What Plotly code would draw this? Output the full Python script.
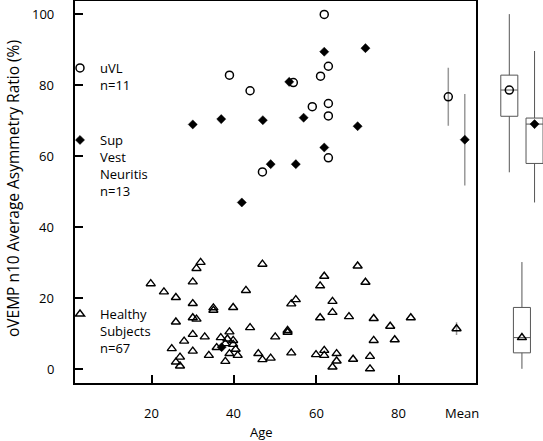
import plotly.graph_objects as go

W, H = 543, 441

# ---------------- data ----------------
uvl_age = [38.9, 43.9, 46.9, 54.4, 59.0, 61.0, 61.9, 62.9, 62.9, 62.9, 62.9]
uvl_ratio = [82.8, 78.4, 55.5, 80.7, 73.9, 82.5, 99.9, 85.3, 74.8, 71.3, 59.5]

svn_age = [30.0, 36.9, 37.0, 41.9, 47.0, 48.9, 53.4, 55.0, 56.9, 61.9, 61.9, 70.0, 71.9]
svn_ratio = [68.9, 70.4, 6.1, 46.9, 70.1, 57.7, 80.9, 57.7, 70.8, 89.4, 62.4, 68.4, 90.4]

healthy_age = [19.8, 23.0, 25.9, 31.9, 30.9, 30.0, 30.0, 25.9, 30.0, 30.9,
               35.0, 35.0, 39.8, 42.9, 46.9, 43.9, 50.0, 30.0, 27.9, 24.9,
               26.9, 25.9, 26.9, 30.0, 32.9, 33.9, 36.8, 38.9, 35.8, 37.9,
               39.8, 39.8, 38.9, 40.9, 37.9, 45.9, 46.9, 48.9, 61.9, 60.9,
               70.0, 71.9, 55.0, 53.9, 63.9, 63.9, 60.9, 67.9, 73.9, 82.9,
               77.9, 73.9, 79.0, 53.0, 53.0, 53.9, 59.9, 61.9, 61.9, 64.9,
               64.9, 63.9, 68.9, 73.0, 73.0, 38.4, 40.4]
healthy_ratio = [24.0, 21.7, 20.1, 30.0, 28.3, 24.5, 18.4, 13.2, 14.4, 14.0,
                 17.2, 16.5, 17.3, 22.1, 29.5, 11.6, 9.0, 9.7, 7.8, 5.7,
                 3.3, 1.9, 0.8, 5.0, 9.0, 3.8, 8.8, 10.4, 6.0, 7.1,
                 8.0, 6.9, 4.3, 3.8, 2.1, 4.3, 2.6, 3.0, 26.1, 23.4,
                 29.0, 24.4, 19.5, 18.3, 19.0, 15.9, 14.4, 14.7, 14.2, 14.4,
                 12.0, 8.0, 8.2, 10.3, 10.8, 4.5, 4.0, 5.2, 3.8, 4.3,
                 2.2, 0.5, 2.7, 3.5, 0.0, 8.4, 5.5]

# group summaries: mean +/- error (Mean column)
groups = ["uVL", "Healthy", "Sup"]
mean_pos = [92, 94, 96]
mean_val = [76.7, 11.3, 64.6]
mean_err = [8.2, 1.8, 12.9]

# box plot statistics (right panel)
box_q1 = [71.2, 4.5, 57.9]
box_median = [78.6, 8.8, 69.0]
box_q3 = [82.8, 17.3, 70.7]
box_low = [55.4, 0.0, 46.9]
box_high = [100.0, 30.1, 89.6]

x_ticks = [20, 40, 60, 80]
y_ticks = [0, 20, 40, 60, 80, 100]

legend_names = ["uVL<br>n=11", "Sup<br>Vest<br>Neuritis<br>n=13", "Healthy<br>Subjects<br>n=67"]

# ---------------- styles ----------------
FONT = "Open Sans"
sym = ["circle-open", "triangle-up-open", "diamond"]
sizes = [8, 8, 7]
X_RANGE = [1.3, 98.6]
Y_RANGE = [-4, 103.7]
X_DOMAIN = [74.5 / W, 475.5 / W]
Y_DOMAIN = [1 - 383 / H, 1 - 1 / H]
TICK_LEN = 8  # px

fig = go.Figure()

fig.add_trace(go.Scatter(x=uvl_age, y=uvl_ratio, mode="markers", name=legend_names[0],
                         legend="legend",
                         marker=dict(symbol="circle-open", size=8, color="black", line=dict(width=1.5))))
fig.add_trace(go.Scatter(x=svn_age, y=svn_ratio, mode="markers", name=legend_names[1],
                         legend="legend2",
                         marker=dict(symbol="diamond", size=7, color="black", line=dict(width=0.5, color="black"))))
fig.add_trace(go.Scatter(x=healthy_age, y=healthy_ratio, mode="markers", name=legend_names[2],
                         legend="legend3",
                         marker=dict(symbol="triangle-up-open", size=8, color="black", line=dict(width=1.4))))

# means with error bars
for i in range(3):
    fig.add_trace(go.Scatter(
        x=[mean_pos[i]], y=[mean_val[i]], mode="markers", showlegend=False,
        error_y=dict(type="data", array=[mean_err[i]], color="#999999", thickness=1.5, width=0),
        marker=dict(symbol=sym[i], size=sizes[i], color="black",
                    line=dict(width=1.5 if i != 2 else 0.5, color="black"))))

# boxes on the right panel (own axes, same value scale)
for i in range(3):
    fig.add_trace(go.Box(
        x=[i], q1=[box_q1[i]], median=[box_median[i]], q3=[box_q3[i]],
        lowerfence=[box_low[i]], upperfence=[box_high[i]],
        xaxis="x2", yaxis="y2", width=1.35, whiskerwidth=0, boxpoints=False,
        fillcolor="white", line=dict(color="#555555", width=1), showlegend=False))
    fig.add_trace(go.Scatter(
        x=[i], y=[box_median[i]], xaxis="x2", yaxis="y2", mode="markers", showlegend=False,
        marker=dict(symbol=sym[i], size=sizes[i], color="black",
                    line=dict(width=1.5 if i != 2 else 0.5, color="black"))))

# axes: lines and inside ticks from plotly; labels placed as annotations below
axis_common = dict(showgrid=False, zeroline=False, showline=True, linecolor="black", linewidth=2,
                   mirror=True, ticks="inside", ticklen=TICK_LEN, tickwidth=2, tickcolor="black",
                   showticklabels=False, automargin=False)

leg_common = dict(xanchor="left", yanchor="top", valign="top", bgcolor="rgba(0,0,0,0)",
                  font=dict(family=FONT, size=13, color="black"), itemwidth=30)

annotations = []
for t in x_ticks:
    annotations.append(dict(text=str(t), x=t, xref="x", y=1 - 413 / H, yref="paper",
                            showarrow=False, xanchor="center", yanchor="middle",
                            font=dict(family=FONT, size=13, color="black")))
for t in y_ticks:
    annotations.append(dict(text=str(t), x=56 / W, xref="paper", y=t, yref="y",
                            showarrow=False, xanchor="right", yanchor="middle",
                            font=dict(family=FONT, size=13, color="black")))
annotations += [
    dict(text="Mean", x=95.4, xref="x", y=1 - 413 / H, yref="paper", showarrow=False,
         yanchor="middle", xanchor="center", font=dict(family=FONT, size=13, color="black")),
    dict(text="Age", x=261 / W, xref="paper", y=1 - 432 / H, yref="paper", showarrow=False,
         yanchor="middle", xanchor="center", font=dict(family=FONT, size=13, color="black")),
    dict(text="oVEMP n10 Average Asymmetry Ratio (%)", x=13 / W, xref="paper",
         y=1 - 189 / H, yref="paper", showarrow=False, textangle=-90,
         yanchor="middle", xanchor="center", font=dict(family=FONT, size=15.5, color="black")),
]

fig.update_layout(
    template="none",
    width=W, height=H, margin=dict(l=0, r=0, t=0, b=0, autoexpand=False),
    plot_bgcolor="white", paper_bgcolor="white",
    font=dict(family=FONT, size=13, color="black"),
    xaxis=dict(domain=X_DOMAIN, range=X_RANGE, tickvals=x_ticks, anchor="y", **axis_common),
    yaxis=dict(domain=Y_DOMAIN, range=Y_RANGE, tickvals=y_ticks, anchor="x", **axis_common),
    xaxis2=dict(domain=[490 / W, 1], range=[-1.53, 2.67], visible=False, anchor="y2",
                automargin=False),
    yaxis2=dict(domain=Y_DOMAIN, range=Y_RANGE, visible=False, anchor="x2",
                automargin=False),
    legend=dict(x=60 / W, y=1 - 53 / H, **leg_common),
    legend2=dict(x=60 / W, y=1 - 125 / H, **leg_common),
    legend3=dict(x=60 / W, y=1 - 299 / H, **leg_common),
    annotations=annotations,
)

fig.write_html("out.html", config={"displayModeBar": False},
               post_script="document.body.style.margin='0';")
